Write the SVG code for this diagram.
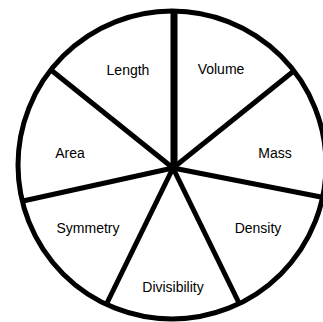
<svg xmlns="http://www.w3.org/2000/svg" width="323" height="322" viewBox="0 0 323 322">
<style>
.rim{fill:#fff;stroke:#000;stroke-width:5}
.sp{stroke:#000;stroke-width:5;stroke-linecap:butt}
.lbl{font-family:"Liberation Sans",Arial,sans-serif;font-size:14px;fill:#000;text-anchor:middle}
</style>
<rect width="323" height="322" fill="#fff"/>
<circle class="rim" cx="172" cy="165" r="154"/>
<g id="connectors">
<line class="sp" x1="174" y1="11" x2="174" y2="168" style="stroke-width:7"/>
<line class="sp" x1="51" y1="70" x2="173" y2="168"/>
<line class="sp" x1="295" y1="70" x2="173" y2="168"/>
<line class="sp" x1="23" y1="201" x2="173" y2="168"/>
<line class="sp" x1="321" y1="197" x2="173" y2="168"/>
<line class="sp" x1="107" y1="303" x2="173" y2="168"/>
<line class="sp" x1="239" y1="303" x2="173" y2="168"/>
</g>
<g id="length"><text class="lbl" x="128" y="75">Length</text></g>
<g id="volume"><text class="lbl" x="221" y="74">Volume</text></g>
<g id="area"><text class="lbl" x="70" y="158">Area</text></g>
<g id="mass"><text class="lbl" x="275" y="158">Mass</text></g>
<g id="symmetry"><text class="lbl" x="88" y="233">Symmetry</text></g>
<g id="density"><text class="lbl" x="258" y="233">Density</text></g>
<g id="divisibility"><text class="lbl" x="173" y="292">Divisibility</text></g>
</svg>
